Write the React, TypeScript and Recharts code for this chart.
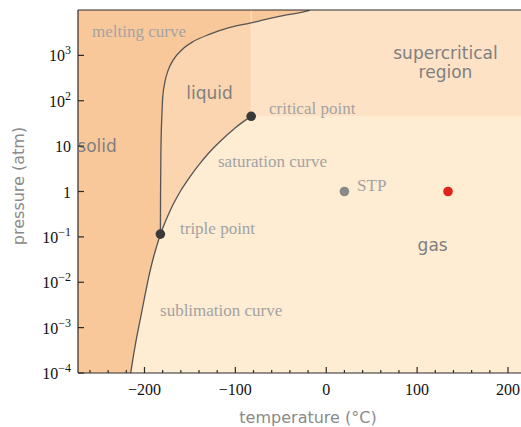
import React from 'react';
import { ComposedChart, Area, Line, Scatter, XAxis, YAxis, CartesianGrid, ReferenceLine } from 'recharts';

const T_MIN = -273.15;
const T_MAX = 214.3;
const P_MIN = 1e-4;
const P_MAX = 1e4;

// phase boundaries (°C, atm)
const sublimationT = [-215.2, -212, -209, -205, -200, -195, -190, -186, -182.5];
const sublimationP = [1e-4, 2.5e-4, 5.5e-4, 1.4e-3, 4.5e-3, 0.014, 0.036, 0.068, 0.115];

const saturationT = [-182.5, -175, -170, -165, -160, -150, -140, -130, -120, -110, -100, -90, -82.6];
const saturationP = [0.115, 0.27, 0.45, 0.7, 1.05, 2.1, 3.9, 6.8, 11, 17, 25.5, 36, 45.4];

const meltingT = [-182.5, -182.3, -181.9, -181.4, -180.9, -180, -177.4, -173.8, -168.3, -159, -146.3, -128, -106, -84, -73, -47.5, -22, -18];
const meltingP = [0.115, 1, 8, 25, 45, 114, 266, 479, 794, 1318, 2020, 2930, 4120, 5130, 5770, 7500, 9400, 10000];

const criticalT = -82.6;
const criticalP = 45.4;

// marked points
const pointT = [-182.5, -82.6, 20, 134];
const pointP = [0.115, 45.4, 1, 1];
const pointKind = ['phase', 'phase', 'stp', 'sample'];

// annotations
const noteText = ['melting curve', 'critical point', 'saturation curve', 'triple point', 'sublimation curve', 'STP'];
const noteT = [-257.7, -63, -119.1, -160.9, -182.9, 33.9];
const noteP = [3240, 65, 4.45, 0.149, 0.00232, 1.315];

const regionText = ['solid', 'liquid', 'supercritical|region', 'gas'];
const regionT = [-252.2, -128.4, 131.2, 117.1];
const regionP = [10, 147, 682, 0.066];

const xTicks = [-260, -240, -220, -200, -180, -160, -140, -120, -100, -80, -60, -40, -20, 0, 20, 40, 60, 80, 100, 120, 140, 160, 180, 200];
const yTicks = [1e-4, 1e-3, 1e-2, 1e-1, 1, 10, 100, 1000];

const rows = (ts: number[], ps: number[]) => ts.map((t, i) => ({ t, p: ps[i] }));

const sublimation = rows(sublimationT, sublimationP);
const saturation = rows(saturationT, saturationP);
const melting = rows(meltingT, meltingP);
const solidEdge = [{ t: T_MIN, p: P_MIN }, ...sublimation, ...melting.slice(1)];
const superTop = [{ t: criticalT, p: P_MAX }, { t: T_MAX, p: P_MAX }];
const points = pointT.map((t, i) => ({ t, p: pointP[i], kind: pointKind[i] }));
const notes = noteText.map((text, i) => ({ t: noteT[i], p: noteP[i], text }));
const regions = regionText.map((text, i) => ({ t: regionT[i], p: regionP[i], text }));

const SERIF = "'Liberation Serif', 'Times New Roman', serif";
const SANS = "'DejaVu Sans', Verdana, sans-serif";
const AXIS = '#2b2b2b';
const CURVE = '#555555';

const dotFill: Record<string, string> = { phase: '#3a3a3a', stp: '#8a8a8a', sample: '#e0241c' };

function XTick(props: any) {
  const { x, y, payload } = props;
  const v = payload.value;
  const major = v % 100 === 0;
  return (
    <g>
      <line x1={x} x2={x} y1={y} y2={y - (major ? 6 : 3)} stroke={AXIS} strokeWidth={1.2} />
      {major && (
        <text x={x} y={y + 22} textAnchor="middle" fontFamily={SERIF} fontSize={16} fill="#111">
          {v < 0 ? `\u2212${-v}` : v}
        </text>
      )}
    </g>
  );
}

function YTick(props: any) {
  const { x, y, payload } = props;
  const n = Math.round(Math.log10(payload.value));
  return (
    <g>
      <line x1={x} x2={x + 6} y1={y} y2={y} stroke={AXIS} strokeWidth={1.2} />
      <text x={x - 7} y={y + 6} textAnchor="end" fontFamily={SERIF} fontSize={16} fill="#111">
        {n === 0 ? '1' : n === 1 ? '10' : (
          <>
            10
            <tspan dy={-7} fontSize={12}>{n < 0 ? `\u2212${-n}` : n}</tspan>
          </>
        )}
      </text>
    </g>
  );
}

const Dot = (props: any) => (
  <circle cx={props.cx} cy={props.cy} r={4.8} fill={dotFill[props.payload.kind]} />
);

const Note = (props: any) => (
  <text x={props.cx} y={props.cy + 5} fontFamily={SERIF} fontSize={17} fill="#a3a3a3">
    {props.payload.text}
  </text>
);

const RegionName = (props: any) => {
  const lines: string[] = props.payload.text.split('|');
  const top = props.cy + 6 - ((lines.length - 1) * 19) / 2;
  return (
    <text textAnchor="middle" fontFamily={SANS} fontSize={17} fill="#808080">
      {lines.map((s, i) => (
        <tspan key={s} x={props.cx} y={top + i * 19}>{s}</tspan>
      ))}
    </text>
  );
};

export default function App() {
  return (
    <div style={{ position: 'absolute', left: 0, top: 0 }}>
      <ComposedChart width={521} height={427} margin={{ top: 10, right: 0, bottom: 0, left: 0 }}>
        <CartesianGrid horizontal={false} vertical={false} fill="#FEECD3" />
        <XAxis
          dataKey="t"
          type="number"
          domain={[T_MIN, T_MAX]}
          allowDataOverflow
          ticks={xTicks}
          interval={0}
          height={54}
          tickSize={0}
          tickMargin={0}
          tickLine={false}
          tick={<XTick />}
          axisLine={{ stroke: AXIS, strokeWidth: 1.2 }}
          label={{
            content: (p: any) => (
              <text
                x={p.viewBox.x + p.viewBox.width / 2 + 8.5}
                y={p.viewBox.y + 50}
                textAnchor="middle"
                fontFamily={SANS}
                fontSize={16}
                fill="#8a8a8a"
              >
                temperature (°C)
              </text>
            ),
          }}
        />
        <YAxis
          dataKey="p"
          type="number"
          scale="log"
          domain={[P_MIN, P_MAX]}
          allowDataOverflow
          ticks={yTicks}
          interval={0}
          width={78}
          tickSize={0}
          tickMargin={0}
          tickLine={false}
          tick={<YTick />}
          axisLine={{ stroke: AXIS, strokeWidth: 1.2 }}
          label={{
            content: (p: any) => {
              const cx = p.viewBox.x + 18;
              const cy = p.viewBox.y + p.viewBox.height / 2 - 5.5;
              return (
                <text
                  x={cx}
                  y={cy}
                  transform={`rotate(-90, ${cx}, ${cy})`}
                  textAnchor="middle"
                  dominantBaseline="central"
                  fontFamily={SANS}
                  fontSize={16}
                  fill="#8a8a8a"
                >
                  pressure (atm)
                </text>
              );
            },
          }}
        />
        <Area data={superTop} dataKey="p" baseValue={criticalP} type="linear" stroke="none" fill="#FDE2C6" fillOpacity={1} isAnimationActive={false} />
        <Area data={saturation} dataKey="p" baseValue="dataMax" type="monotone" stroke="none" fill="#FBD5B0" fillOpacity={1} isAnimationActive={false} />
        <Area data={solidEdge} dataKey="p" baseValue="dataMax" type="monotone" stroke="none" fill="#F9C89A" fillOpacity={1} isAnimationActive={false} />
        <ReferenceLine
          segment={[{ x: criticalT, y: criticalP }, { x: criticalT, y: P_MAX }]}
          stroke="#FDE6CF"
          strokeWidth={1}
        />
        <Line data={sublimation} dataKey="p" type="monotone" stroke={CURVE} strokeWidth={1.3} dot={false} isAnimationActive={false} />
        <Line data={saturation} dataKey="p" type="monotone" stroke={CURVE} strokeWidth={1.3} dot={false} isAnimationActive={false} />
        <Line data={melting} dataKey="p" type="monotone" stroke={CURVE} strokeWidth={1.3} dot={false} isAnimationActive={false} />
        <ReferenceLine y={P_MAX} stroke={AXIS} strokeWidth={1.2} />
        <Scatter data={points} dataKey="p" shape={Dot} isAnimationActive={false} />
        <Scatter data={notes} dataKey="p" shape={Note} isAnimationActive={false} />
        <Scatter data={regions} dataKey="p" shape={RegionName} isAnimationActive={false} />
      </ComposedChart>
    </div>
  );
}
